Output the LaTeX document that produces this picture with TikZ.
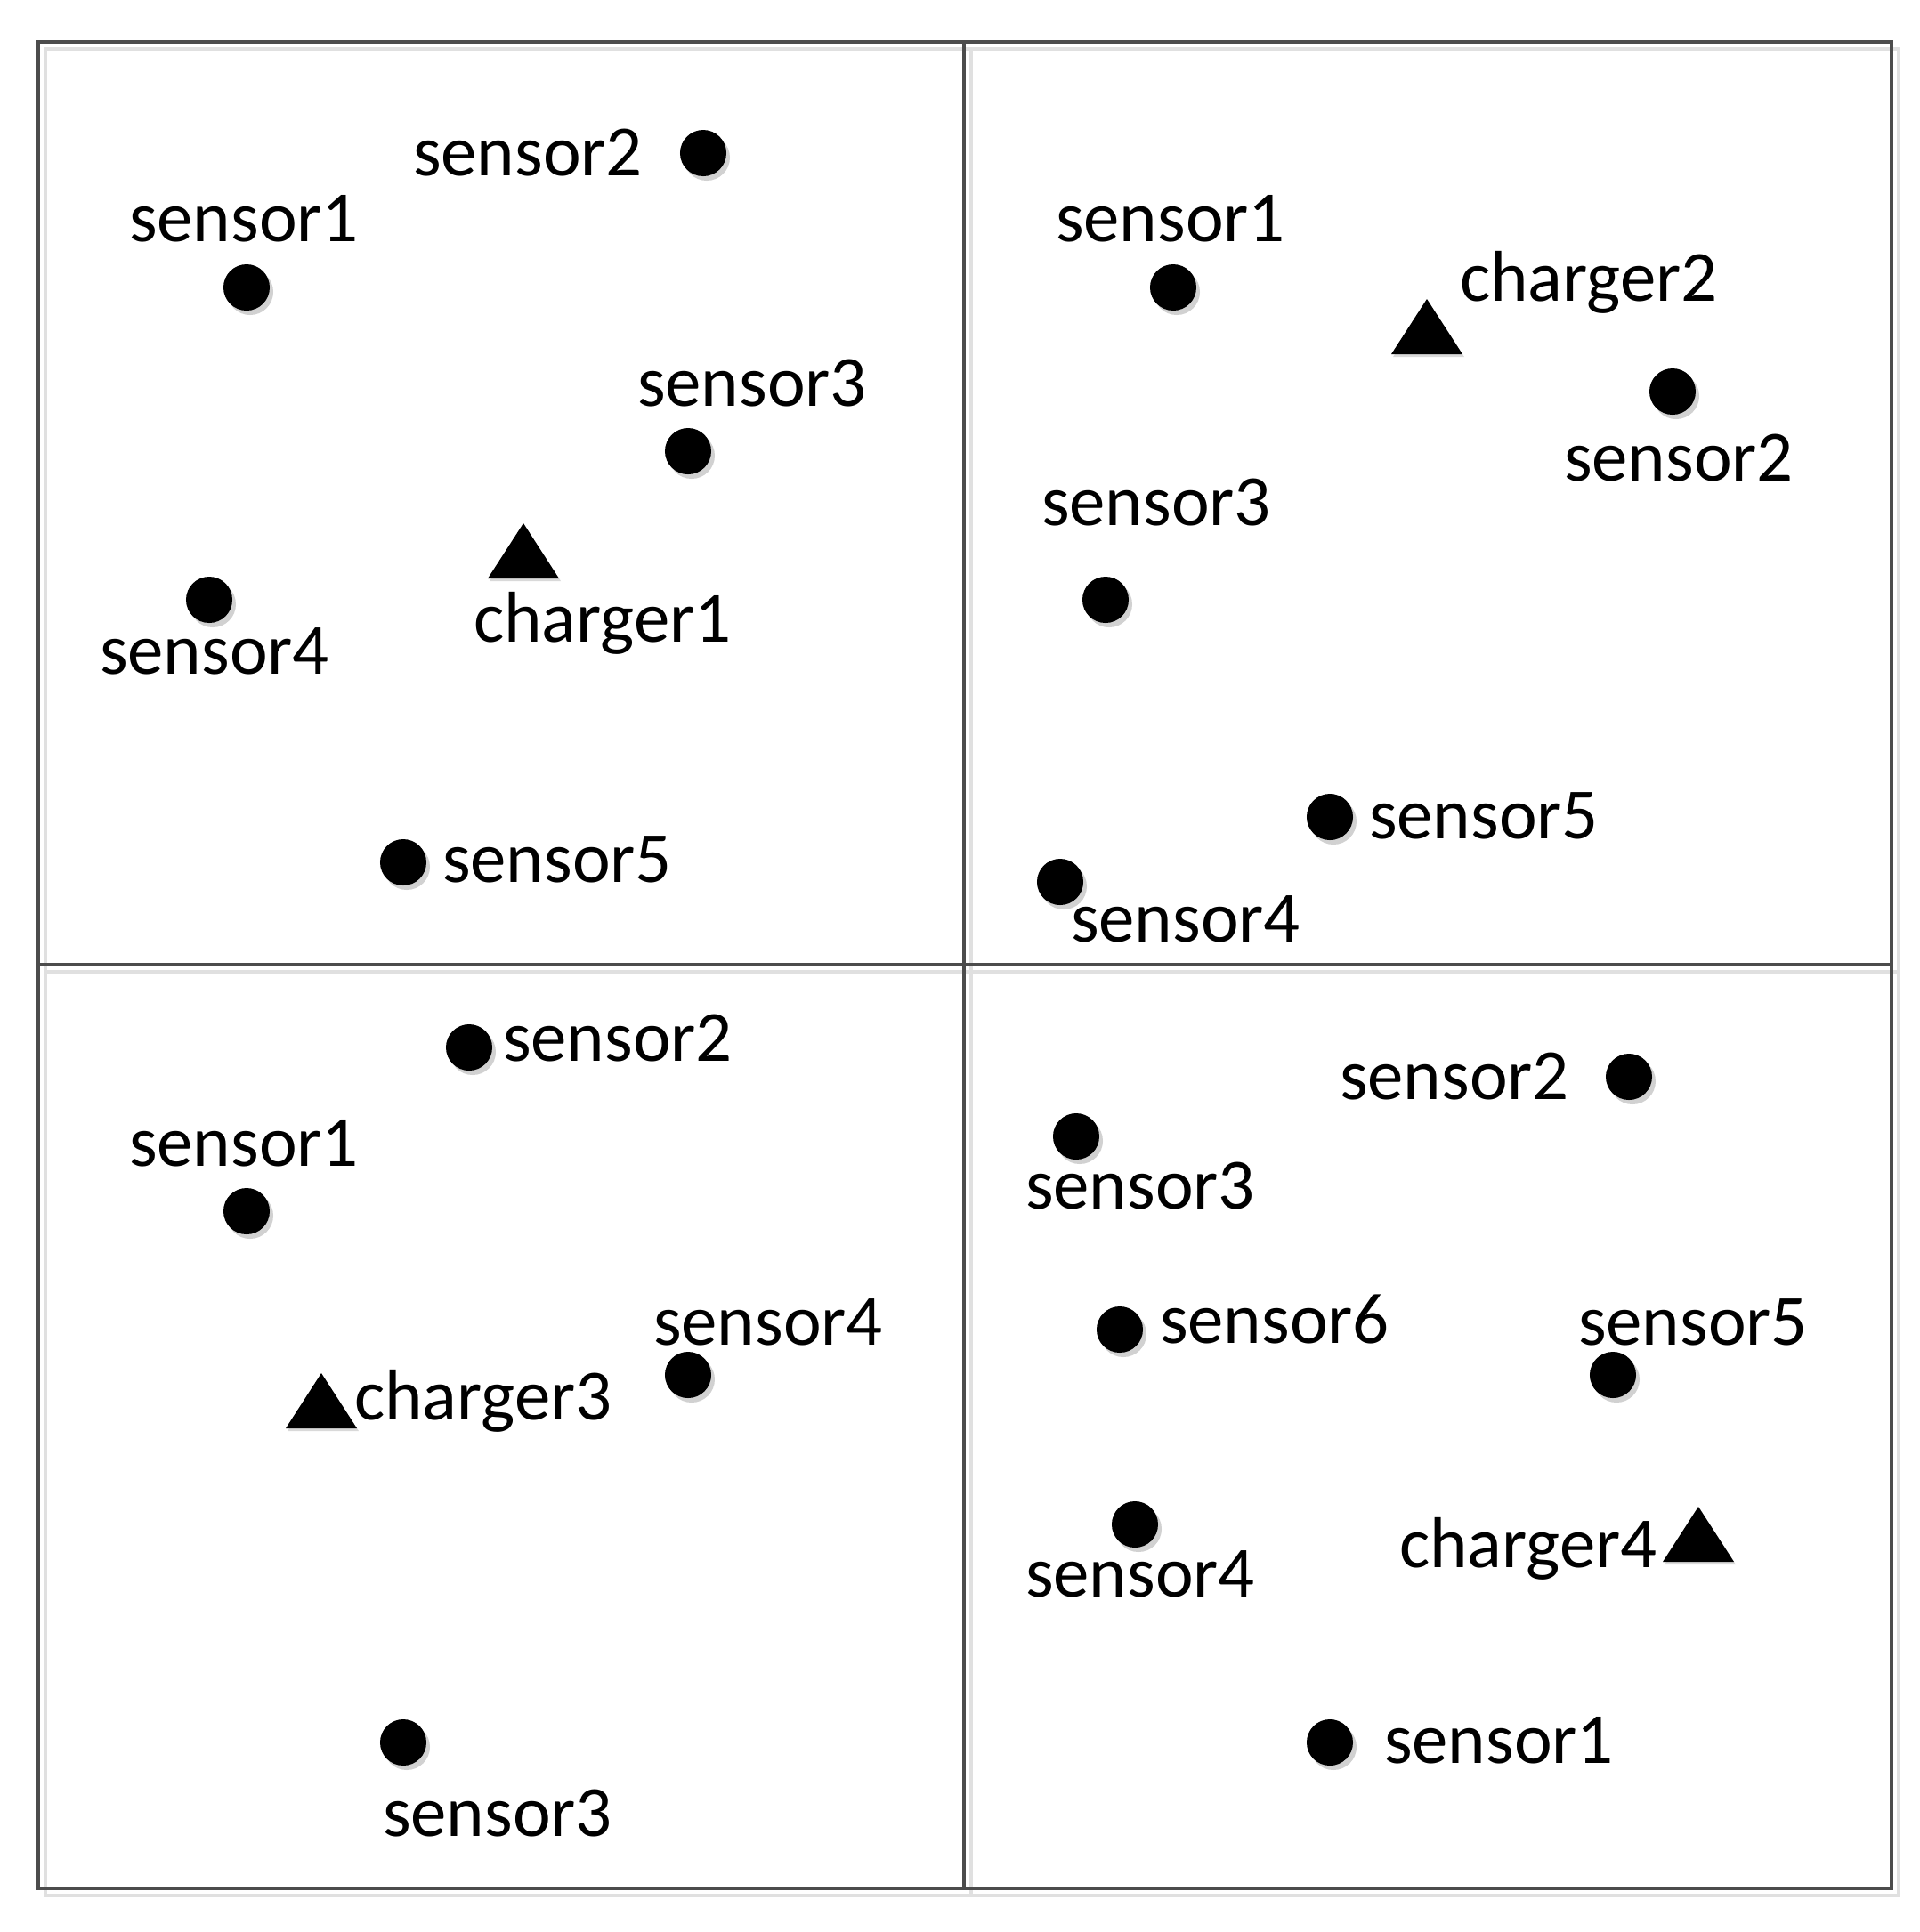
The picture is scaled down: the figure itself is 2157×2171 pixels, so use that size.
\documentclass[tikz,border=0pt]{standalone}
\usepackage{fontspec}
\setmainfont{Carlito}
\usetikzlibrary{shadows,calc}

\tikzset{
  sensor/.style={circle, fill=black, inner sep=0pt, minimum size=0.52cm,
    drop shadow={shadow xshift=0.04cm, shadow yshift=-0.05cm, fill=black!18, opacity=1}},
  lbl/.style={inner sep=0pt, text height=0.63em, text depth=0pt, yshift=-0.14cm,
    font=\fontsize{23}{27}\selectfont},
  grid/.style={draw=black!70, line width=1.1pt},
  gridshade/.style={draw=black!12, line width=1.1pt}
}
\newcommand{\charger}[1]{\fill[black!15] ($(#1)+(-38,34)$) -- ++(80,0) -- ++(-40,-62) -- cycle;
  \fill ($(#1)+(-40,31)$) -- ++(80,0) -- ++(-40,-62) -- cycle;}

\begin{document}
\begin{tikzpicture}[x=0.01cm, y=-0.01cm]
\useasboundingbox (0,0) rectangle (2157,2171);
% frame
\draw[gridshade] (51,55) rectangle (2133,2130);
\draw[gridshade] (1091,55) -- (1091,2130);
\draw[gridshade] (51,1092) -- (2133,1092);
\draw[grid] (43,47) rectangle (2125,2122);
\draw[grid] (1083,47) -- (1083,2122);
\draw[grid] (43,1084) -- (2125,1084);

% top left
\node[sensor] (a2) at (790,172) {};
\node[lbl] (a2l) at (593,172) {sensor2};
\node[sensor] (a1) at (277,323) {};
\node[lbl] (a1l) at (274,246) {sensor1};
\node[sensor] (a3) at (773,507) {};
\node[lbl] (a3l) at (845,431) {sensor3};
\coordinate (c1) at (588,619);
\charger{c1}
\node[lbl] (c1l) at (677,696) {charger1};
\node[sensor] (a4) at (235,674) {};
\node[lbl] (a4l) at (241,732) {sensor4};
\node[sensor] (a5) at (453,969) {};
\node[lbl] (a5l) at (626,966) {sensor5};

% top right
\node[sensor] (b1) at (1318,323) {};
\node[lbl] (b1l) at (1315,246) {sensor1};
\coordinate (c2) at (1603,367);
\charger{c2}
\node[lbl] (c2l) at (1785,313) {charger2};
\node[sensor] (b2) at (1879,440) {};
\node[lbl] (b2l) at (1886,515) {sensor2};
\node[sensor] (b3) at (1242,674) {};
\node[lbl] (b3l) at (1299,565) {sensor3};
\node[sensor] (b5) at (1494,918) {};
\node[lbl] (b5l) at (1667,917) {sensor5};
\node[sensor] (b4) at (1191,991) {};
\node[lbl] (b4l) at (1332,1033) {sensor4};

% bottom left
\node[sensor] (d2) at (527,1177) {};
\node[lbl] (d2l) at (694,1167) {sensor2};
\node[sensor] (d1) at (277,1361) {};
\node[lbl] (d1l) at (274,1285) {sensor1};
\node[sensor] (d4) at (773,1545) {};
\node[lbl] (d4l) at (863,1486) {sensor4};
\coordinate (c3) at (361,1574);
\charger{c3}
\node[lbl] (c3l) at (543,1570) {charger3};
\node[sensor] (d3) at (453,1958) {};
\node[lbl] (d3l) at (559,2038) {sensor3};

% bottom right
\node[sensor] (e2) at (1830,1210) {};
\node[lbl] (e2l) at (1634,1210) {sensor2};
\node[sensor] (e3) at (1209,1277) {};
\node[lbl] (e3l) at (1281,1333) {sensor3};
\node[sensor] (e6) at (1258,1494) {};
\node[lbl] (e6l) at (1432,1484) {sensor6};
\node[sensor] (e5) at (1812,1545) {};
\node[lbl] (e5l) at (1902,1486) {sensor5};
\node[sensor] (e4) at (1275,1713) {};
\node[lbl] (e4l) at (1281,1769) {sensor4};
\coordinate (c4) at (1908,1724);
\charger{c4}
\node[lbl] (c4l) at (1717,1736) {charger4};
\node[sensor] (e1) at (1494,1958) {};
\node[lbl] (e1l) at (1684,1956) {sensor1};
\end{tikzpicture}
\end{document}
